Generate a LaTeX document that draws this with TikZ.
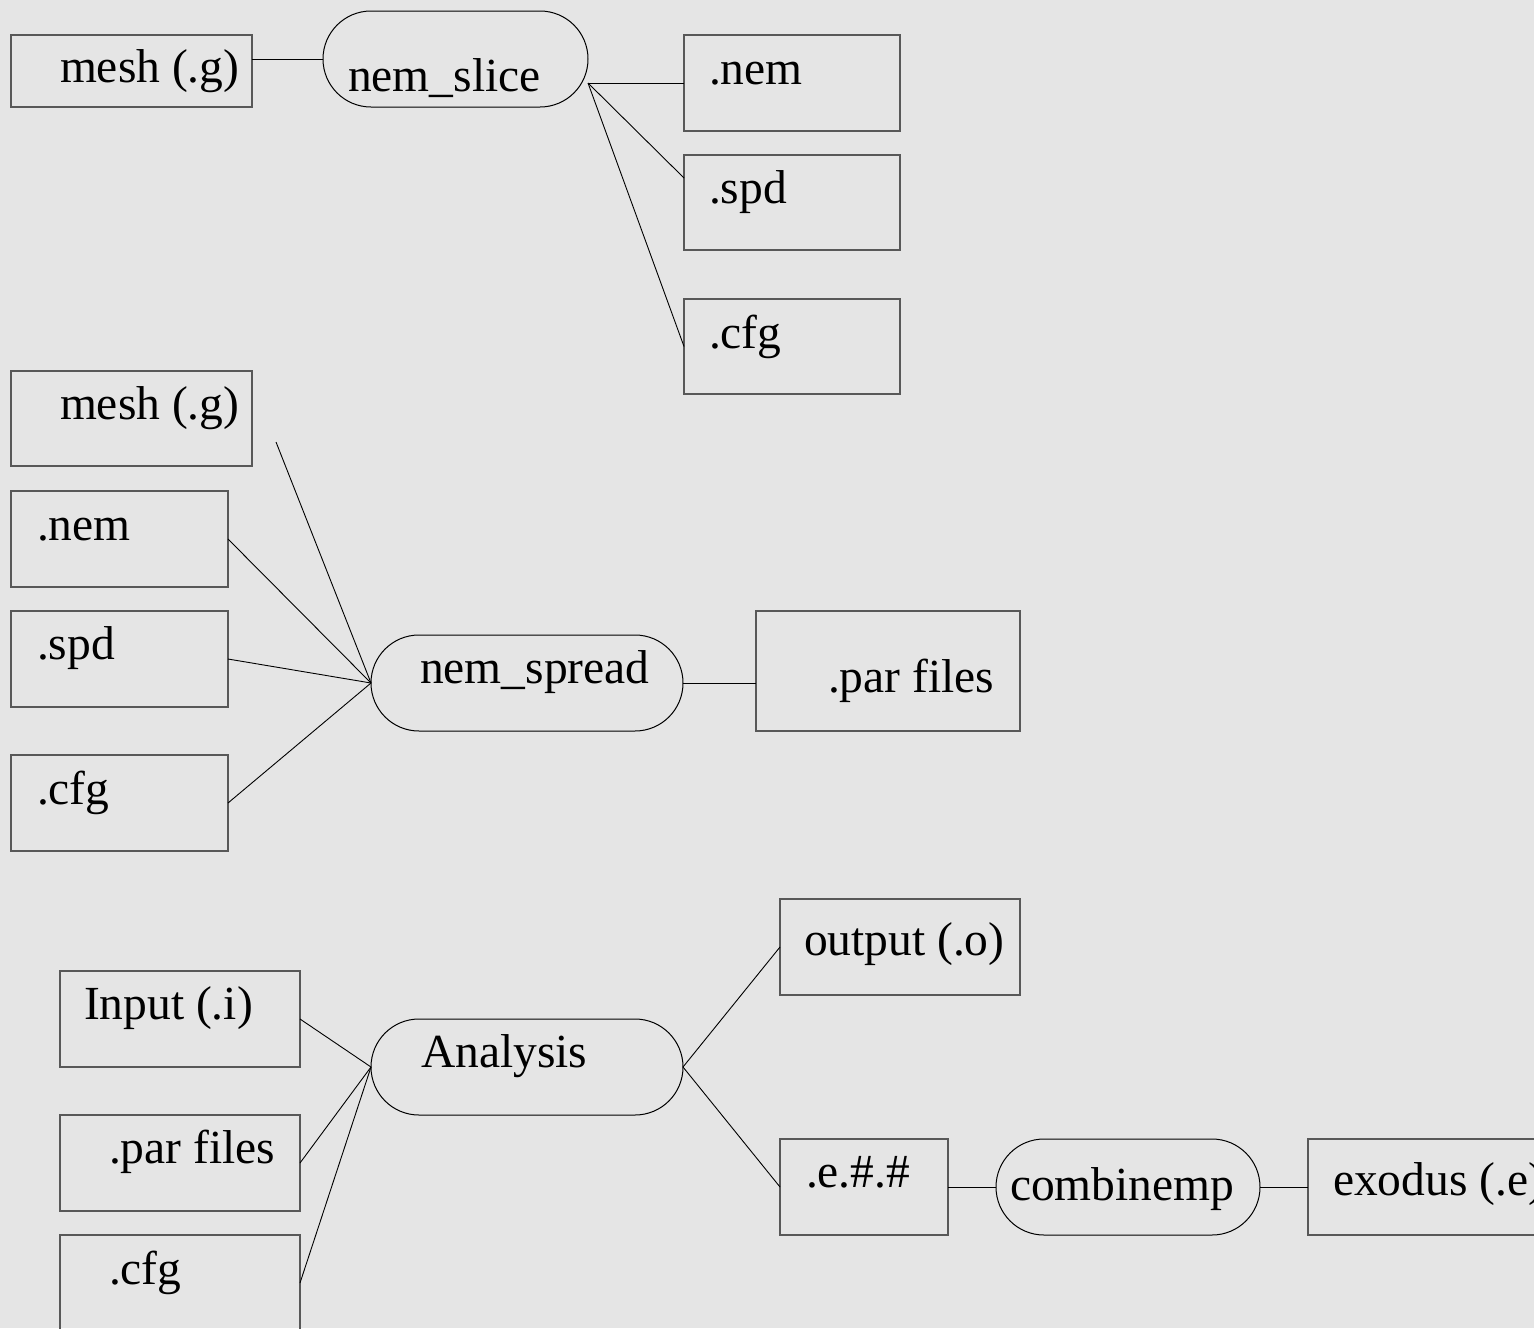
\documentclass[tikz,border=0pt]{standalone}
\usepackage{fontspec}
\setmainfont{Liberation Serif}
\definecolor{bg}{RGB}{229,229,229}
\definecolor{boxline}{RGB}{88,88,88}
\tikzset{
  filebox/.style={draw=boxline, line width=1.5pt, rectangle, anchor=north west,
    inner sep=0pt, outer sep=0pt},
  tool/.style={draw=black, line width=1pt, rectangle, rounded corners=48pt,
    anchor=north west, inner sep=0pt, outer sep=0pt, minimum height=96pt},
  lbl/.style={anchor=base west, inner sep=0pt, outer sep=0pt,
    font=\fontsize{47.5}{57}\selectfont},
  link/.style={draw=black, line width=0.9pt},
}
\begin{document}
\begin{tikzpicture}[x=1pt, y=-1pt]
  \useasboundingbox (0,0) rectangle (1534,1328);
  \fill[bg] (0,0) rectangle (1534,1328);
  \clip (0,0) rectangle (1534,1328);

  % ---- nem_slice stage ----
  \node[filebox, minimum width=241pt, minimum height=72pt] (meshA) at (11,35) {};
  \node[lbl] (meshAt) at (60,82) {mesh (.g)};
  \node[tool, minimum width=265pt] (slice) at (323,11) {};
  \node[lbl] (slicet) at (348,91) {nem\_slice};
  \node[filebox, minimum width=216pt, minimum height=96pt] (nemA) at (684,35) {};
  \node[lbl] (nemAt) at (709,84) {.nem};
  \node[filebox, minimum width=216pt, minimum height=95pt] (spdA) at (684,155) {};
  \node[lbl] (spdAt) at (709,203) {.spd};
  \node[filebox, minimum width=216pt, minimum height=95pt] (cfgA) at (684,299) {};
  \node[lbl] (cfgAt) at (709,348) {.cfg};

  \draw[link] ([yshift=12pt]meshA.east) -- (slice.west);
  \coordinate (sliceout) at ([yshift=-24pt]slice.east);
  \draw[link] (sliceout) -- (nemA.west);
  \draw[link] (sliceout) -- ([yshift=24.5pt]spdA.west);
  \draw[link] (sliceout) -- (cfgA.west);

  % ---- nem_spread stage ----
  \node[filebox, minimum width=241pt, minimum height=95pt] (meshB) at (11,371) {};
  \node[lbl] (meshBt) at (60,419) {mesh (.g)};
  \node[filebox, minimum width=217pt, minimum height=96pt] (nemB) at (11,491) {};
  \node[lbl] (nemBt) at (37,540) {.nem};
  \node[filebox, minimum width=217pt, minimum height=96pt] (spdB) at (11,611) {};
  \node[lbl] (spdBt) at (37,659) {.spd};
  \node[filebox, minimum width=217pt, minimum height=96pt] (cfgB) at (11,755) {};
  \node[lbl] (cfgBt) at (37,804) {.cfg};
  \node[tool, minimum width=312pt] (spread) at (371,635) {};
  \node[lbl] (spreadt) at (420,683) {nem\_spread};
  \node[filebox, minimum width=264pt, minimum height=120pt] (parB) at (756,611) {};
  \node[lbl] (parBt) at (828,692) {.par files};

  \coordinate (meshBtail) at (276,442);
  \draw[link] (meshBtail) -- (spread.west);
  \draw[link] (nemB.east) -- (spread.west);
  \draw[link] (spdB.east) -- (spread.west);
  \draw[link] (cfgB.east) -- (spread.west);
  \draw[link] (spread.east) -- ([yshift=-12pt]parB.west);

  % ---- analysis stage ----
  \node[filebox, minimum width=240pt, minimum height=96pt] (inp) at (60,971) {};
  \node[lbl] (inpt) at (84,1019) {Input (.i)};
  \node[filebox, minimum width=240pt, minimum height=96pt] (parC) at (60,1115) {};
  \node[lbl] (parCt) at (109,1163) {.par files};
  \node[filebox, minimum width=240pt, minimum height=96pt] (cfgC) at (60,1235) {};
  \node[lbl] (cfgCt) at (109,1284) {.cfg};
  \node[tool, minimum width=312pt] (ana) at (371,1019) {};
  \node[lbl] (anat) at (421,1067) {Analysis};
  \node[filebox, minimum width=240pt, minimum height=96pt] (outp) at (780,899) {};
  \node[lbl] (outpt) at (804,955) {output (.o)};
  \node[filebox, minimum width=168pt, minimum height=96pt] (eparts) at (780,1139) {};
  \node[lbl] (epartst) at (806,1187) {.e.\#.\#};
  \node[tool, minimum width=264pt] (comb) at (996,1139) {};
  \node[lbl] (combt) at (1010,1200) {combinemp};
  \node[filebox, minimum width=240pt, minimum height=96pt] (exo) at (1308,1139) {};
  \node[lbl] (exot) at (1333,1195) {exodus (.e)};

  \draw[link] (inp.east) -- (ana.west);
  \draw[link] (parC.east) -- (ana.west);
  \draw[link] (cfgC.east) -- (ana.west);
  \draw[link] (ana.east) -- (outp.west);
  \draw[link] (ana.east) -- (eparts.west);
  \draw[link] (eparts.east) -- (comb.west);
  \draw[link] (comb.east) -- (exo.west);
\end{tikzpicture}
\end{document}
